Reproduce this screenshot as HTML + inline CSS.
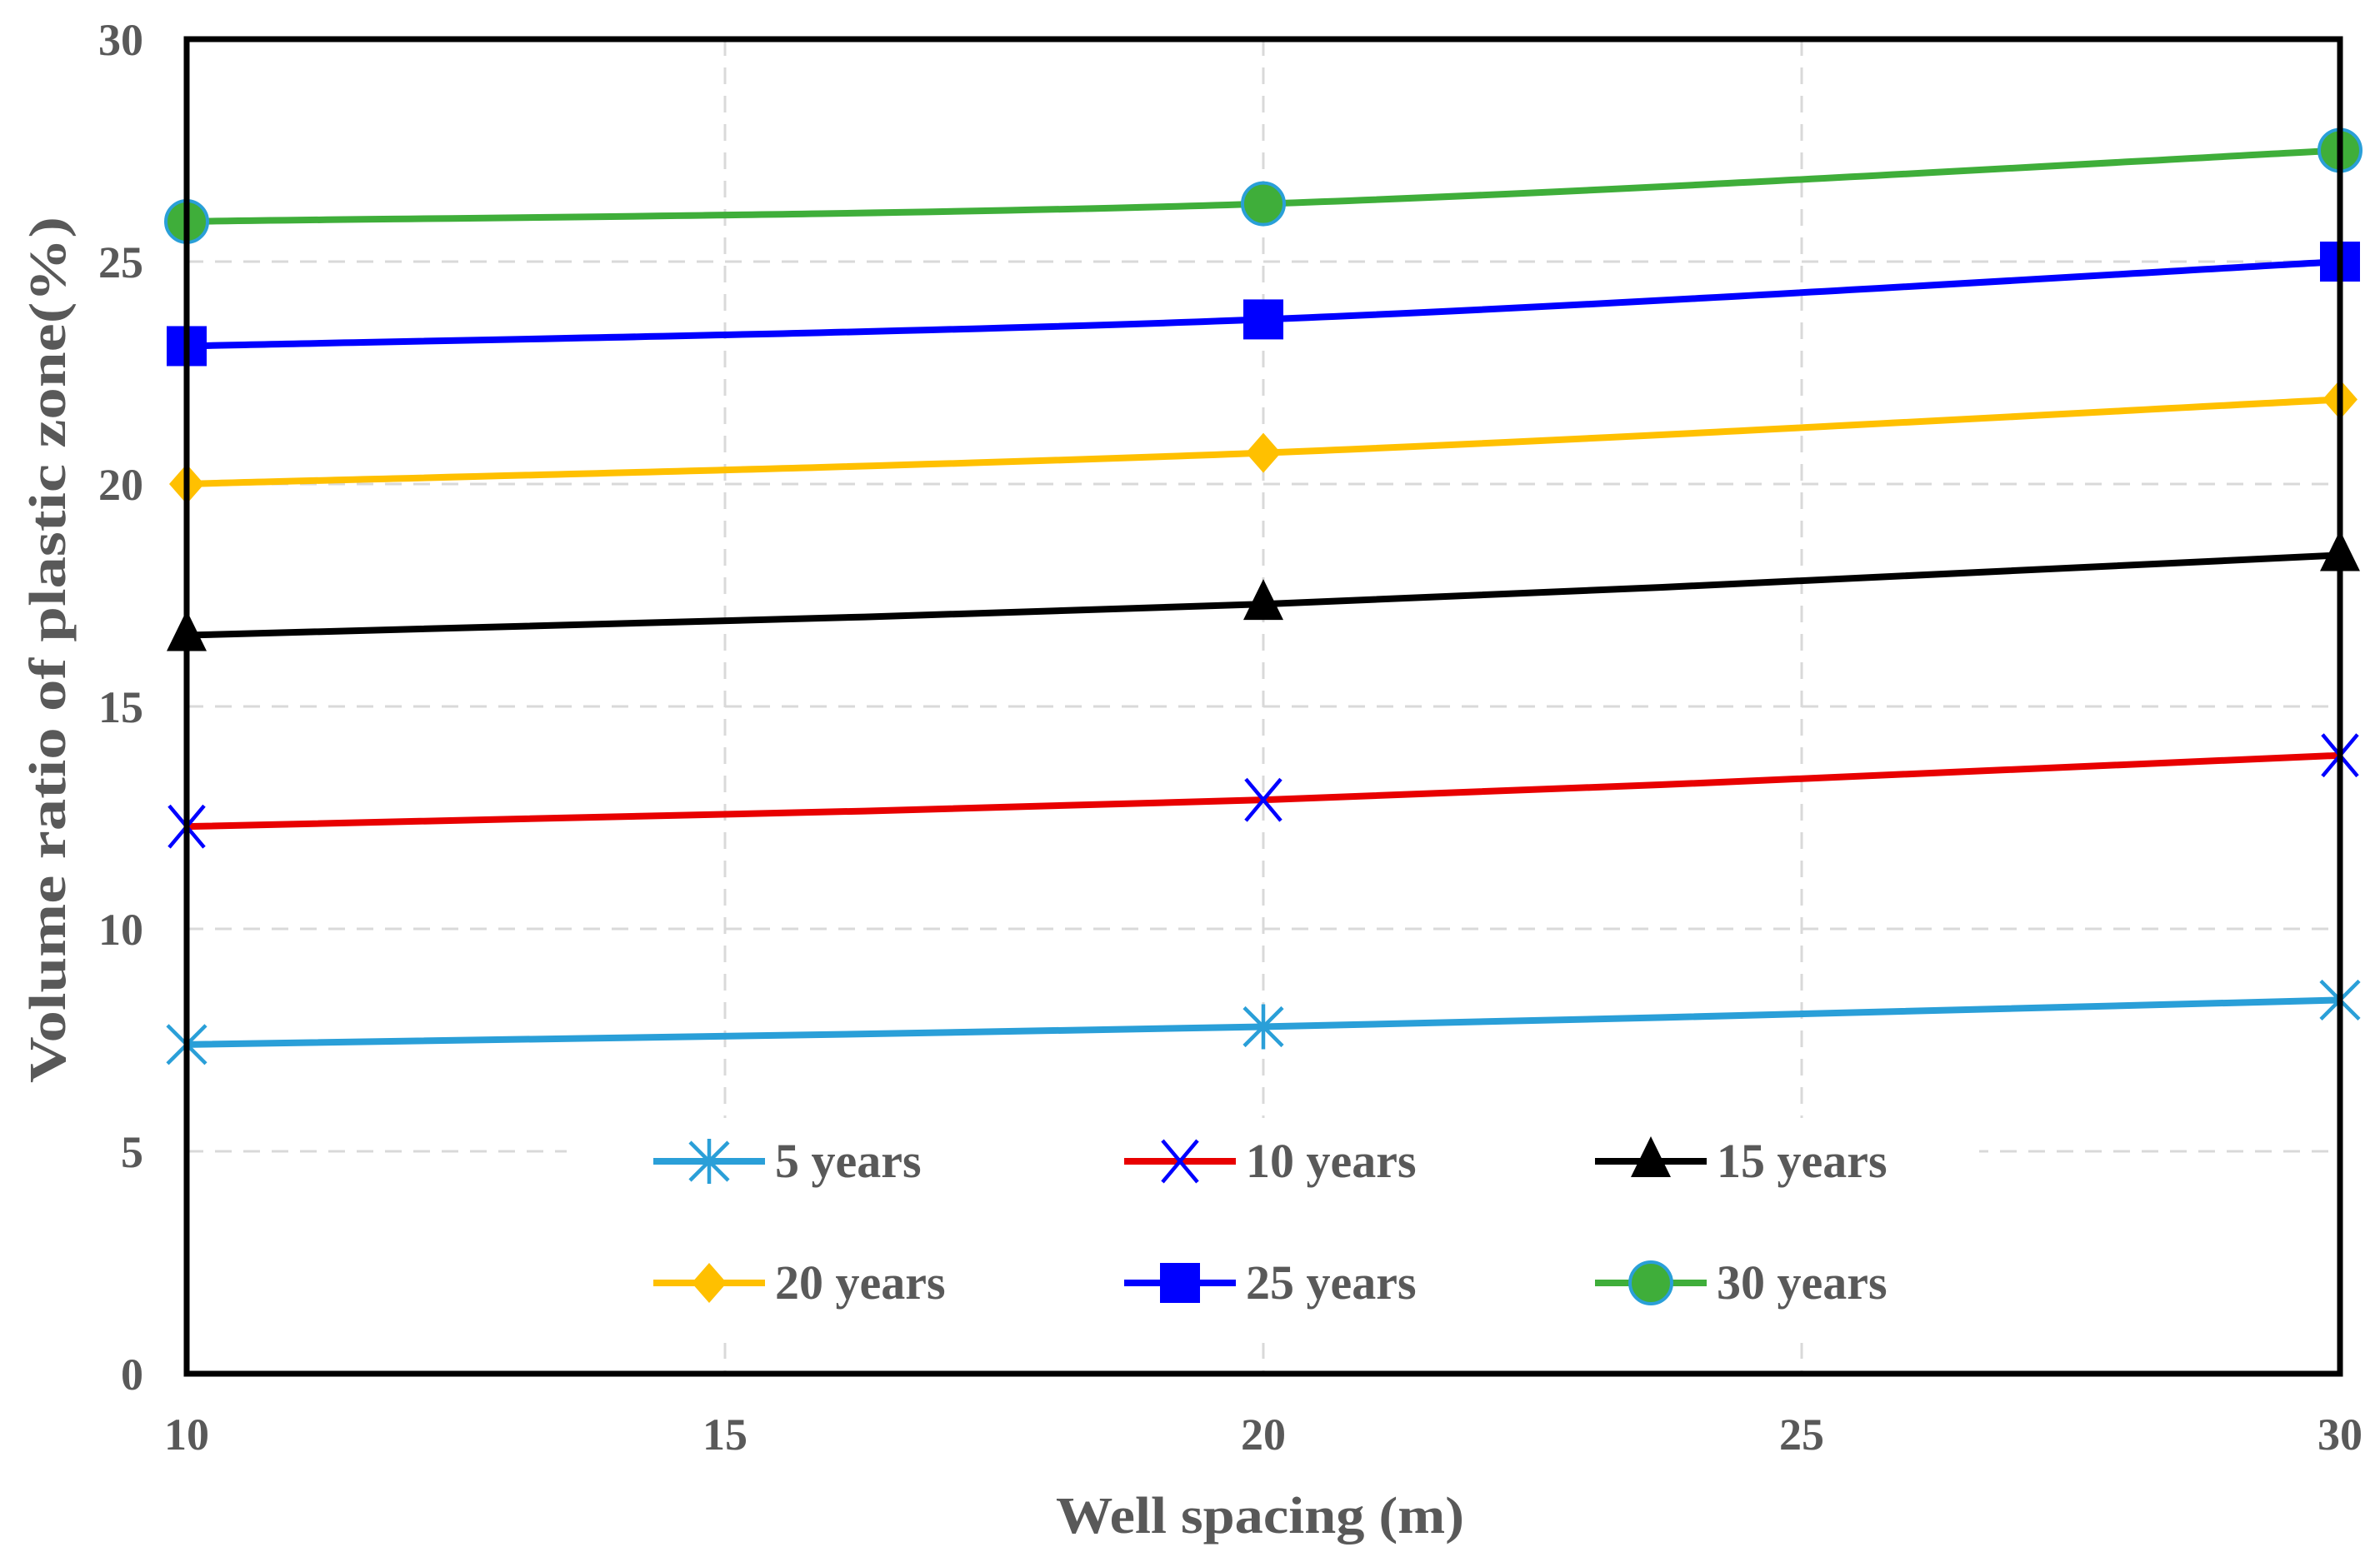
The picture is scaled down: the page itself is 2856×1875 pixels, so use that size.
<!DOCTYPE html>
<html><head><meta charset="utf-8"><style>
html,body{margin:0;padding:0;background:#fff;}
svg{display:block;}
text{font-family:"Liberation Serif",serif;font-weight:bold;fill:#595959;}
</style></head><body>
<svg id="chart" width="2856" height="1875" viewBox="0 0 2856 1875" xmlns="http://www.w3.org/2000/svg">
<g id="grid"></g>
<rect x="680" y="1342" width="1695" height="270" fill="#fff"/>
<g id="series"></g>
<rect x="224" y="47" width="2584" height="1602" fill="none" stroke="#000" stroke-width="7"/>
<g id="ticks"></g>
<g id="legend"></g>
<text x="1512" y="1840" font-size="62" text-anchor="middle" textLength="490" lengthAdjust="spacingAndGlyphs">Well spacing (m)</text>
<text transform="translate(78,780) rotate(-90)" font-size="62" text-anchor="middle" textLength="1040" lengthAdjust="spacingAndGlyphs">Volume ratio of plastic zone(%)</text>
</svg>
<script>
const xValues = [10, 20, 30];
const seriesNames = ["5 years","10 years","15 years","20 years","25 years","30 years"];
const s5 = [7.4, 7.8, 8.4];
const s10 = [12.3, 12.9, 13.9];
const s15 = [16.6, 17.3, 18.4];
const s20 = [20.0, 20.7, 21.9];
const s25 = [23.1, 23.7, 25.0];
const s30 = [25.9, 26.3, 27.5];
const xTicks = [10, 15, 20, 25, 30];
const yTicks = [0, 5, 10, 15, 20, 25, 30];

const NS = "http://www.w3.org/2000/svg";
const L = 224, R = 2808, T = 47, B = 1649;
const xs = v => L + (v - 10) / 20 * (R - L);
const ys = v => B - v / 30 * (B - T);
function mk(tag, attrs, parent) {
  const e = document.createElementNS(NS, tag);
  for (const k in attrs) e.setAttribute(k, attrs[k]);
  parent.appendChild(e);
  return e;
}
const grid = document.getElementById('grid');
xTicks.slice(1, -1).forEach(v => {
  const l = mk('line', {x1: xs(v), x2: xs(v), y1: T, y2: B, stroke: '#d9d9d9', 'stroke-width': 3, 'stroke-dasharray': '20 14'}, grid);
  
  
});
yTicks.slice(1, -1).forEach(v => {
  const l = mk('line', {x1: L, x2: R, y1: ys(v), y2: ys(v), stroke: '#d9d9d9', 'stroke-width': 3, 'stroke-dasharray': '20 14'}, grid);
  
  
});
const ticks = document.getElementById('ticks');
xTicks.forEach(v => {
  const t = mk('text', {x: xs(v), y: 1740, 'font-size': 54, 'text-anchor': 'middle'}, ticks);
  t.textContent = v;
  
  
});
yTicks.forEach(v => {
  const t = mk('text', {x: 172, y: ys(v) + 19, 'font-size': 54, 'text-anchor': 'end'}, ticks);
  t.textContent = v;
  
  
});

const seriesData = [s5, s10, s15, s20, s25, s30];
const colors = ['#2a9fd8', '#e80000', '#000000', '#ffc000', '#0000ff', '#3fae3a'];
const markers = ['star', 'x', 'tri', 'diamond', 'square', 'circle'];
function marker(type, cx, cy, g) {
  let e;
  if (type === 'star') {
    const d = `M${cx-23},${cy-23}L${cx+23},${cy+23}M${cx+23},${cy-23}L${cx-23},${cy+23}M${cx},${cy-27}L${cx},${cy+27}`;
    e = mk('path', {d, stroke: '#2a9fd8', 'stroke-width': 4.5, fill: 'none'}, g);
  } else if (type === 'x') {
    const d = `M${cx-21},${cy-25}L${cx+21},${cy+25}M${cx+21},${cy-25}L${cx-21},${cy+25}`;
    e = mk('path', {d, stroke: '#0000ff', 'stroke-width': 4.5, fill: 'none'}, g);
  } else if (type === 'tri') {
    e = mk('path', {d: `M${cx},${cy-30}L${cx+24},${cy+19}L${cx-24},${cy+19}Z`, fill: '#000'}, g);
  } else if (type === 'diamond') {
    e = mk('path', {d: `M${cx},${cy-24}L${cx+21},${cy}L${cx},${cy+24}L${cx-21},${cy}Z`, fill: '#ffc000'}, g);
  } else if (type === 'square') {
    e = mk('rect', {x: cx-24, y: cy-24, width: 48, height: 48, fill: '#0000ff'}, g);
  } else {
    e = mk('circle', {cx, cy, r: 25, fill: '#3fae3a', stroke: '#2a9fd8', 'stroke-width': 4}, g);
  }
  return e;
}
function smoothPath(pts) {
  let d = `M${pts[0][0]},${pts[0][1]}`;
  for (let i = 0; i < pts.length - 1; i++) {
    const p0 = pts[i - 1] || pts[i], p1 = pts[i], p2 = pts[i + 1], p3 = pts[i + 2] || p2;
    const c1 = [p1[0] + (p2[0] - p0[0]) / 6, p1[1] + (p2[1] - p0[1]) / 6];
    const c2 = [p2[0] - (p3[0] - p1[0]) / 6, p2[1] - (p3[1] - p1[1]) / 6];
    d += `C${c1[0]},${c1[1]} ${c2[0]},${c2[1]} ${p2[0]},${p2[1]}`;
  }
  return d;
}
const sg = document.getElementById('series');
seriesData.forEach((vals, i) => {
  const pts = vals.map((v, j) => [xs(xValues[j]), ys(v)]);
  const p = mk('path', {d: smoothPath(pts), fill: 'none', stroke: colors[i], 'stroke-width': 8}, sg);
  
  
  pts.forEach(pt => {
    const m = marker(markers[i], pt[0], pt[1], sg);
    
    
  });
});
const lg = document.getElementById('legend');
const colX = [784, 1349, 1914];
const rowY = [1394, 1540];
seriesNames.forEach((name, i) => {
  const x0 = colX[i % 3], y0 = rowY[Math.floor(i / 3)];
  const g = mk('g', {}, lg);
  
  
  mk('line', {x1: x0, x2: x0 + 134, y1: y0, y2: y0, stroke: colors[i], 'stroke-width': 8}, g);
  marker(markers[i], x0 + 67, y0, g);
  const t = mk('text', {x: x0 + 146, y: y0 + 19, 'font-size': 58}, g);
  t.textContent = name;
});
</script>
</body></html>
